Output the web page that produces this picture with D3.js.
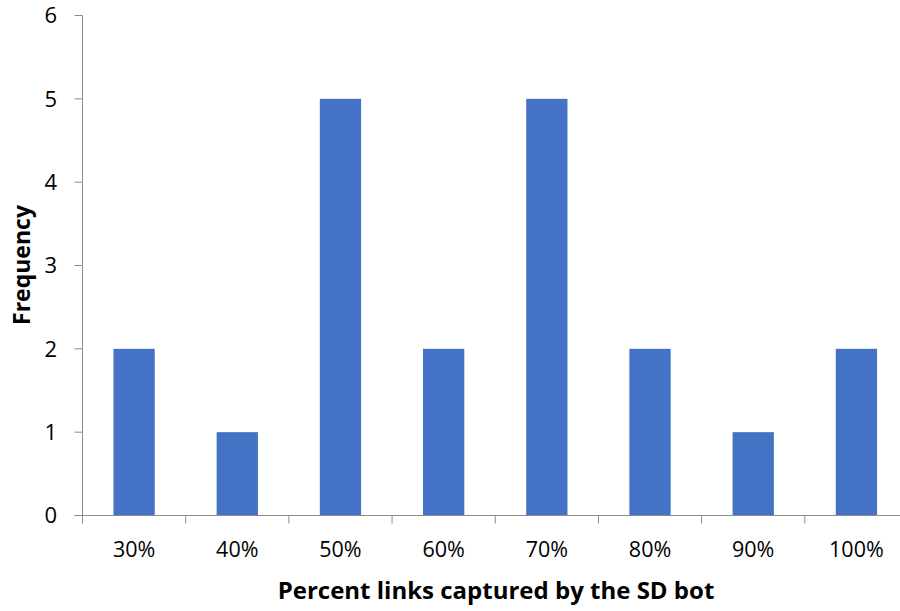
<!DOCTYPE html>
<html><head><meta charset="utf-8">
<script src="https://cdn.jsdelivr.net/npm/d3@7"></script>
<style>body{margin:0;background:#fff}svg{display:block}</style>
</head><body>
<script>
const categories = ["30%","40%","50%","60%","70%","80%","90%","100%"];
const frequency = [2,1,5,2,5,2,1,2];
const yTicks = [0,1,2,3,4,5,6];
const xTitle = "Percent links captured by the SD bot";
const yTitle = "Frequency";

(function(){
const W = 900, H = 611;
const mLeft = 82.5, mRight = 908, mTop = 15.5, mBottom = 515.5;
const font = "'Open Sans', sans-serif";
const axisColor = "#8c8c8c";

const svg = d3.select("body").append("svg").attr("width", W).attr("height", H);

const x = d3.scaleBand().domain(categories).range([mLeft, mRight]).paddingInner(0.6).paddingOuter(0.3);
const xb = d3.scaleBand().domain(categories).range([mLeft, mRight]);
const y = d3.scaleLinear().domain([0,6]).range([mBottom, mTop]);

svg.selectAll("rect.bar").data(categories).enter().append("rect")
  .attr("class","bar")
  .attr("x", d => x(d))
  .attr("width", x.bandwidth())
  .attr("y", (d,i) => y(frequency[i]))
  .attr("height", (d,i) => y(0) - y(frequency[i]))
  .attr("fill", "#4472C4");

const gy = svg.append("g");
gy.append("line").attr("x1", mLeft).attr("x2", mLeft).attr("y1", y(6)).attr("y2", y(0)).attr("stroke", axisColor);
gy.selectAll("line.t").data(yTicks).enter().append("line")
  .attr("x1", mLeft - 8).attr("x2", mLeft).attr("y1", d => y(d)).attr("y2", d => y(d)).attr("stroke", axisColor);
gy.selectAll("text").data(yTicks).enter().append("text")
  .attr("x", 57).attr("y", d => y(d)).attr("dy", "0.35em").attr("text-anchor","end")
  .attr("font-family", font).attr("font-size", 22).attr("fill","#000").text(d => d);

const gx = svg.append("g");
gx.append("line").attr("x1", mLeft - 8).attr("x2", mRight).attr("y1", mBottom).attr("y2", mBottom).attr("stroke", axisColor);
const bounds = categories.map(c => xb(c)).concat([mRight]);
gx.selectAll("line.t").data(bounds).enter().append("line")
  .attr("x1", d => d).attr("x2", d => d).attr("y1", mBottom).attr("y2", mBottom + 8).attr("stroke", axisColor);
gx.selectAll("text").data(categories).enter().append("text")
  .attr("x", d => xb(d) + xb.bandwidth()/2).attr("y", 549).attr("dy","0.35em").attr("text-anchor","middle")
  .attr("font-family", font).attr("font-size", 21.5).attr("fill","#000").text(d => d);

svg.append("text").attr("x", 496).attr("y", 591).attr("dy","0.35em").attr("text-anchor","middle")
  .attr("font-family", font).attr("font-weight","bold").attr("font-size", 24).text(xTitle);
svg.append("text").attr("transform","translate(22,265) rotate(-90)").attr("dy","0.35em").attr("text-anchor","middle")
  .attr("font-family", font).attr("font-weight","bold").attr("font-size", 23).text(yTitle);
})();
</script>
</body></html>
